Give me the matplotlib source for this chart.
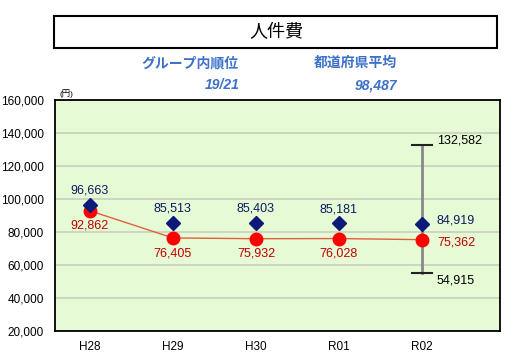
import matplotlib.pyplot as plt
import matplotlib.patches as patches

plt.rcParams['font.family'] = ['Liberation Sans', 'Noto Sans CJK JP', 'DejaVu Sans']

years = ['H28', 'H29', 'H30', 'R01', 'R02']
pref = [92862, 76405, 75932, 76028, 75362]      # 赤：当該団体
group = [96663, 85513, 85403, 85181, 84919]     # 青：グループ平均
r02_max = 132582
r02_min = 54915
rank = '19/21'
avg_all = '98,487'

fig = plt.figure(figsize=(5.27, 3.54), dpi=100)
ax = fig.add_axes([55/527, 1-331/354, 445/527, 231/354])

x = list(range(len(years)))
ax.set_facecolor('#e6fad6')
ax.set_xlim(-0.42, 4.94)
ax.set_ylim(20000, 160000)
ax.set_yticks(range(20000, 160001, 20000))
ax.set_yticklabels([f'{v:,}' for v in range(20000, 160001, 20000)], fontsize=8.5)
ax.set_xticks(x)
ax.set_xticklabels(years, fontsize=8.5)
ax.tick_params(length=0, pad=7)
ax.tick_params(axis='y', pad=8)
ax.grid(axis='y', color='#c8cfc0', lw=1.2)
ax.set_axisbelow(True)
for s in ax.spines.values():
    s.set_color('black')
    s.set_linewidth(1.3)

# エラーバー（最大・最小）
ax.plot([4, 4], [r02_min, r02_max], color='#888888', lw=2, zorder=2)
ax.plot([3.88, 4.12], [r02_max, r02_max], color='#222222', lw=1.5, zorder=2)
ax.plot([3.88, 4.12], [r02_min, r02_min], color='#222222', lw=1.5, zorder=2)

ax.plot(x, pref, color='#e0603c', lw=1, zorder=3)
ax.plot(x, pref, 'o', color='#ff0000', ms=9, zorder=4)
ax.plot(x, group, 'D', color='#0d1a78', ms=7, zorder=5)

for i in range(4):
    ax.text(i, group[i] + 5000, f'{group[i]:,}', ha='center', va='bottom',
            color='#0d1a60', fontsize=9)
    ax.text(i, pref[i] - 5500, f'{pref[i]:,}', ha='center', va='top',
            color='#c00000', fontsize=9)
ax.text(4.18, group[4] + 2000, f'{group[4]:,}', ha='left', va='center', color='#0d1a60', fontsize=9)
ax.text(4.18, pref[4] - 2000, f'{pref[4]:,}', ha='left', va='center', color='#c00000', fontsize=9)
ax.text(4.18, r02_max + 3000, f'{r02_max:,}', ha='left', va='center', color='black', fontsize=9)
ax.text(4.18, r02_min - 4500, f'{r02_min:,}', ha='left', va='center', color='black', fontsize=9)

ax.text(-0.36, 161500, '(円)', fontsize=6, va='bottom', ha='left')

# タイトル枠
fig.patches.append(patches.Rectangle((54/527, 1-48/354), 443/527, 32/354,
                                     transform=fig.transFigure, fill=False,
                                     edgecolor='black', lw=1.5))
fig.text(276/527, 1-33/354, '人件費', ha='center', va='center', fontsize=13)

blue = '#3d70c8'
fig.text(190/527, 1-63/354, 'グループ内順位', ha='center', va='center',
         color=blue, fontsize=10, style='italic', weight='bold')
fig.text(355/527, 1-63/354, '都道府県平均', ha='center', va='center',
         color=blue, fontsize=10, style='italic', weight='bold')
fig.text(240/527, 1-85/354, rank, ha='right', va='center',
         color=blue, fontsize=10, style='italic', weight='bold')
fig.text(397/527, 1-85/354, avg_all, ha='right', va='center',
         color=blue, fontsize=10, style='italic', weight='bold')

fig.savefig('out.png', dpi=100)
